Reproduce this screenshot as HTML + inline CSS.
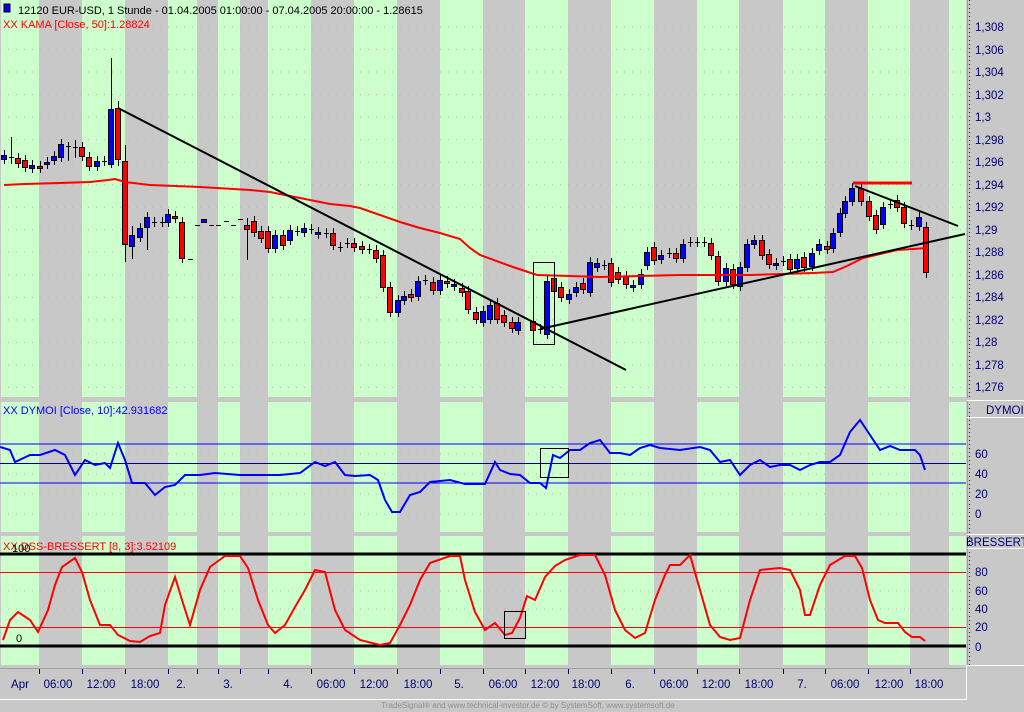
<!DOCTYPE html>
<html><head><meta charset="utf-8"><style>
html,body{margin:0;padding:0;background:#c8c8c8;width:1024px;height:712px;overflow:hidden}
svg{display:block}
text{font-family:"Liberation Sans",sans-serif}
</style></head><body>
<svg id="s" width="1024" height="712" xmlns="http://www.w3.org/2000/svg">
<rect width="1024" height="712" fill="#c8c8c8"/>
<g id="stripes"></g>
<g id="grid" stroke="#b8b8b8" stroke-dasharray="1,7" stroke-width="1"></g>
<!-- right axis -->
<line x1="967.5" y1="0" x2="967.5" y2="665" stroke="#a0a0a0"/>
<line x1="969.5" y1="0" x2="969.5" y2="665" stroke="#000070" stroke-dasharray="1,3"/>
<g font-size="11.5" fill="#000070" id="yl">
<text x="975" y="31">1,308</text><text x="975" y="54">1,306</text><text x="975" y="76">1,304</text><text x="975" y="99">1,302</text><text x="975" y="121">1,3</text><text x="975" y="144">1,298</text><text x="975" y="166">1,296</text><text x="975" y="189">1,294</text><text x="975" y="211">1,292</text><text x="975" y="234">1,29</text><text x="975" y="256">1,288</text><text x="975" y="279">1,286</text><text x="975" y="301">1,284</text><text x="975" y="324">1,282</text><text x="975" y="346">1,28</text><text x="975" y="369">1,278</text><text x="975" y="391">1,276</text>
<text x="975" y="458">60</text><text x="975" y="478">40</text><text x="975" y="498">20</text><text x="975" y="518">0</text>
<text x="975" y="576">80</text><text x="975" y="595">60</text><text x="975" y="613">40</text><text x="975" y="631">20</text><text x="975" y="651">0</text>
</g>
<rect x="967" y="398" width="57" height="3" fill="#c8c8c8"/>
<line x1="967" y1="400.5" x2="1024" y2="400.5" stroke="#fff"/>
<line x1="967" y1="417.5" x2="1024" y2="417.5" stroke="#fff"/>
<text x="986" y="414" font-size="11.5" fill="#000070">DYMOI</text>
<line x1="967" y1="534.5" x2="1024" y2="534.5" stroke="#fff"/>
<line x1="967" y1="548.5" x2="1024" y2="548.5" stroke="#fff"/>
<text x="966" y="546" font-size="11.5" fill="#000070">BRESSERT</text>
<line x1="967" y1="665.5" x2="1024" y2="665.5" stroke="#fff"/>
<!-- x axis -->
<line x1="0" y1="668.5" x2="966" y2="668.5" stroke="#a0a0a0"/>
<line x1="966.5" y1="665" x2="966.5" y2="700" stroke="#fff"/>
<line x1="0" y1="699.5" x2="967" y2="699.5" stroke="#fff"/>
<g id="ticks" stroke="#000070"></g>
<g font-size="11.5" fill="#000070" text-anchor="middle">
<text x="20" y="688">Apr</text><text x="58" y="688">06:00</text><text x="101" y="688">12:00</text><text x="145" y="688">18:00</text><text x="181" y="688">2.</text><text x="228" y="688">3.</text><text x="288" y="688">4.</text><text x="331" y="688">06:00</text><text x="374" y="688">12:00</text><text x="418" y="688">18:00</text><text x="459" y="688">5.</text><text x="503" y="688">06:00</text><text x="545" y="688">12:00</text><text x="586" y="688">18:00</text><text x="630" y="688">6.</text><text x="674" y="688">06:00</text><text x="716" y="688">12:00</text><text x="759" y="688">18:00</text><text x="802" y="688">7.</text><text x="845" y="688">06:00</text><text x="889" y="688">12:00</text><text x="929" y="688">18:00</text>
</g>
<text x="528" y="708" font-size="8" fill="#909090" text-anchor="middle">TradeSignal® and www.technical-investor.de © by SystemSoft, www.systemsoft.de</text>
<!-- DYMOI levels -->
<g stroke="#0000ff" stroke-width="1"><line x1="0" y1="444" x2="966" y2="444"/><line x1="0" y1="483" x2="966" y2="483"/></g>
<line x1="0" y1="463.5" x2="966" y2="463.5" stroke="#000080"/>
<!-- Bressert levels -->
<g stroke="#ff0000"><line x1="0" y1="572.5" x2="966" y2="572.5"/><line x1="0" y1="627.5" x2="966" y2="627.5"/></g>
<g stroke="#000" stroke-width="3"><line x1="0" y1="554" x2="966" y2="554"/><line x1="0" y1="646" x2="966" y2="646"/></g>
<g id="candles"></g>
<polyline id="kama" fill="none" stroke="#ff0000" stroke-width="2"/>
<g stroke="#000" stroke-width="2">
<line x1="118" y1="108" x2="626" y2="370"/><line x1="540" y1="329" x2="965" y2="234"/><line x1="855" y1="186" x2="958" y2="226"/></g>
<line x1="853" y1="183" x2="912" y2="183" stroke="#ff0000" stroke-width="3"/>
<rect x="533.5" y="262.5" width="21" height="82" fill="none" stroke="#000"/>
<polyline id="dym" fill="none" stroke="#0000ff" stroke-width="2"/>
<rect x="540.5" y="448.5" width="28" height="29" fill="none" stroke="#000"/>
<polyline id="bre" fill="none" stroke="#ff0000" stroke-width="2"/>
<rect x="504.5" y="611.5" width="21" height="27" fill="none" stroke="#000"/>
<!-- headers -->
<rect x="4" y="4" width="6" height="8" fill="#0000ff" stroke="#000"/>
<text x="18" y="14" font-size="11" fill="#000">12120  EUR-USD, 1 Stunde - 01.04.2005 01:00:00 - 07.04.2005 20:00:00 - 1.28615</text>
<text x="3" y="28" font-size="11" fill="#ff0000">XX KAMA [Close, 50]:1.28824</text>
<text x="3" y="414" font-size="11" fill="#0000ff">XX DYMOI [Close, 10]:42.931682</text>
<text x="3" y="550" font-size="11" fill="#ff0000">XX DSS-BRESSERT [8, 3]:3.52109</text>
<text x="12" y="552" font-size="11" fill="#000">100</text>
<text x="16" y="642" font-size="11" fill="#000">0</text>
</svg>
<script>
var NS="http://www.w3.org/2000/svg";
function el(p,t,a){var e=document.createElementNS(NS,t);for(var k in a)e.setAttribute(k,a[k]);p.appendChild(e);return e;}
var st=document.getElementById("stripes");
var greens=[[1,39],[82,125],[168,197],[218,240],[268,311],[354,397],[440,483],[525,568],[611,654],[697,739],[783,825],[868,910],[949,966]];
var panels=[[0,397],[402,532],[536,665]];
panels.forEach(function(p){greens.forEach(function(g){el(st,"rect",{x:g[0],y:p[0],width:g[1]-g[0],height:p[1]-p[0],fill:"#ccffcc"});});});
var gr=document.getElementById("grid");
for(var i=0;i<17;i++){var y=27+i*22.53;el(gr,"line",{x1:0,y1:y,x2:966,y2:y});}
[454,474,494,514].forEach(function(y){el(gr,"line",{x1:0,y1:y,x2:966,y2:y});});
[591,609].forEach(function(y){el(gr,"line",{x1:0,y1:y,x2:966,y2:y});});
var tk=document.getElementById("ticks");
[39,82,125,168,197,218,240,268,311,354,397,440,483,525,568,611,654,697,739,783,825,868,910].forEach(function(x){el(tk,"line",{x1:x+.5,y1:669,x2:x+.5,y2:674});});
var C=[
[4,155,159,"b"],[11,157,157,"d",137,164],[18,158,163,"r"],[25,160,167,"r"],[32,165,168,"b"],[40,166,168,"r"],[47,162,164,"b"],[54,156,160,"b"],[61,144,157,"b"],[68,146,146,"d",142,161],[75,147,147,"d",140,158],[82,147,156,"r"],[89,157,166,"r"],[97,161,166,"b"],[104,161,161,"d"],
[111,109,164,"b",58,168],[118,108,159,"r",101,166],[125,161,244,"r",145,262],[132,235,246,"b",226,259],[140,228,237,"b"],[147,217,227,"b",212,250],[154,222,222,"d"],[162,222,222,"d"],[168,214,222,"b"],[175,216,218,"r"],[182,222,258,"r"],[190,259,259,"d",259,259],
[197,225,225,"d",225,225],[204,219,222,"b",219,222],[211,225,225,"d",225,225],[218,225,225,"d",225,225],[226,221,221,"d",221,221],[233,225,225,"d",225,225],[240,219,219,"d",219,219],
[247,225,229,"r",218,260],[254,221,232,"r"],[261,231,238,"r"],[268,231,248,"r"],[275,235,248,"b"],[283,235,245,"r"],[290,230,240,"b"],[297,231,231,"d"],[304,228,232,"b"],[311,229,229,"d"],[318,232,234,"b"],[326,233,233,"d"],[333,233,245,"r"],[340,247,247,"d"],[347,243,243,"d"],[354,243,247,"r"],[362,246,249,"r"],[369,249,249,"d"],[376,250,258,"r"],[383,255,287,"r"],[390,287,312,"r"],[398,300,312,"b"],[404,296,300,"b"],[411,294,297,"r"],[418,281,296,"b"],[425,280,280,"d"],[433,282,290,"r"],[440,280,290,"b"],[447,281,283,"r"],[454,284,286,"b"],[462,288,292,"r"],[468,291,309,"r"],[476,312,319,"r"],
[483,311,322,"b"],[490,305,319,"b"],[497,303,319,"r"],[504,315,322,"r"],[512,322,328,"r"],[518,322,330,"b"],[533,321,330,"r"],[540,329,329,"d"],[547,281,334,"b"],[554,278,291,"r"],[561,287,297,"r"],[569,294,299,"b"],[576,287,292,"b"],[583,283,289,"r"],[590,262,292,"b"],[597,263,267,"b"],[604,265,265,"d"],[611,263,282,"r"],[618,272,279,"r"],[626,276,284,"r"],[633,285,287,"b"],[641,274,284,"b"],[647,252,265,"b"],[654,247,260,"r"],[661,255,259,"b"],[669,253,253,"d"],[676,253,258,"r"],[683,244,258,"b"],[690,242,242,"d"],[697,242,242,"d"],[704,242,242,"d"],[711,243,255,"r"],[718,256,281,"r"],[726,268,281,"b"],[733,269,284,"r"],[740,267,286,"b"],[747,244,267,"b"],[754,240,244,"b"],[762,240,255,"r"],[769,254,264,"r"],[776,263,265,"b"],[783,261,261,"d"],[790,259,269,"r"],[797,259,268,"b"],[804,257,267,"r"],[812,253,266,"b"],[819,244,250,"b"],[827,246,249,"r"],[833,233,248,"b"],[840,213,232,"b"],[845,201,213,"b"],[852,188,201,"b"],[861,188,201,"r"],[869,201,216,"r"],[876,215,229,"r"],[883,207,224,"b"],[890,204,204,"d"],[897,200,207,"r"],[904,207,223,"r"],[911,225,225,"d"],[919,217,226,"b"],[926,227,272,"r",222,278]];
var cg=document.getElementById("candles");
C.forEach(function(c){var x=c[0],t=c[1],b=c[2];var wt=c.length>4?c[4]:t-5,wb=c.length>5?c[5]:b+5;
 if(wb>wt)el(cg,"line",{x1:x+.5,y1:wt,x2:x+.5,y2:wb,stroke:"#000"});
 if(c[3]=="d"){el(cg,"line",{x1:x-2,y1:t+.5,x2:x+3,y2:t+.5,stroke:"#000"});}
 else el(cg,"rect",{x:x-2.5,y:t+.5,width:5,height:Math.max(b-t,2),fill:c[3]=="b"?"#0000ff":"#ff0000",stroke:"#000"});
});
function pts(id,a){document.getElementById(id).setAttribute("points",a.map(function(p){return p.join(",")}).join(" "));}
pts("kama",[[4,185],[25,184],[60,183],[90,182],[108,180],[115,179],[125,182],[150,185],[200,187],[250,190],[270,192],[290,196],[310,200],[330,204],[350,206],[360,208],[380,215],[400,222],[420,228],[440,233],[460,239],[470,248],[480,255],[513,267],[537,275],[570,276],[600,277],[680,275],[750,275],[813,273],[833,272],[847,266],[863,258],[880,254],[897,250],[913,249],[927,248]]);
pts("dym",[[0,447],[10,450],[15,462],[30,455],[40,455],[55,450],[65,455],[75,475],[85,460],[95,465],[105,463],[110,468],[118,443],[125,460],[132,483],[145,483],[155,495],[165,487],[175,485],[185,475],[200,475],[215,473],[240,475],[260,475],[280,475],[300,473],[315,462],[325,466],[335,462],[345,475],[355,476],[370,475],[378,480],[385,500],[392,512],[400,512],[410,495],[420,492],[430,482],[450,480],[465,484],[485,484],[495,462],[500,470],[510,474],[520,475],[530,483],[540,483],[546,488],[553,455],[560,458],[570,450],[580,450],[590,443],[600,440],[610,453],[620,453],[630,455],[640,448],[650,445],[660,448],[680,450],[700,447],[710,450],[720,462],[730,460],[740,475],[750,465],[760,460],[770,467],[780,465],[790,465],[800,470],[810,465],[820,462],[830,462],[840,455],[850,432],[860,420],[870,435],[880,450],[890,446],[900,450],[915,450],[920,455],[925,470]]);
pts("bre",[[3,640],[10,620],[18,612],[30,620],[38,632],[48,610],[55,585],[62,567],[75,558],[82,572],[90,600],[100,625],[110,625],[118,635],[130,641],[140,642],[150,636],[160,633],[165,605],[175,577],[182,600],[190,625],[200,590],[210,567],[225,556],[240,556],[248,568],[258,600],[268,625],[275,633],[285,625],[295,607],[305,590],[315,570],[325,572],[335,610],[345,630],[360,640],[380,645],[390,643],[400,625],[410,605],[420,580],[430,563],[450,556],[460,556],[465,580],[475,612],[485,630],[495,623],[505,635],[512,633],[520,618],[527,596],[535,600],[545,577],[555,566],[565,560],[580,555],[595,555],[605,575],[615,610],[625,630],[635,638],[645,633],[655,600],[665,575],[670,565],[680,565],[690,555],[700,590],[710,625],[720,637],[730,640],[740,638],[750,600],[760,570],[780,568],[790,570],[800,590],[805,615],[810,615],[820,585],[830,565],[845,556],[855,556],[862,568],[870,600],[878,620],[885,623],[898,623],[905,632],[912,637],[920,637],[925,641]]);
</script>
</body></html>
